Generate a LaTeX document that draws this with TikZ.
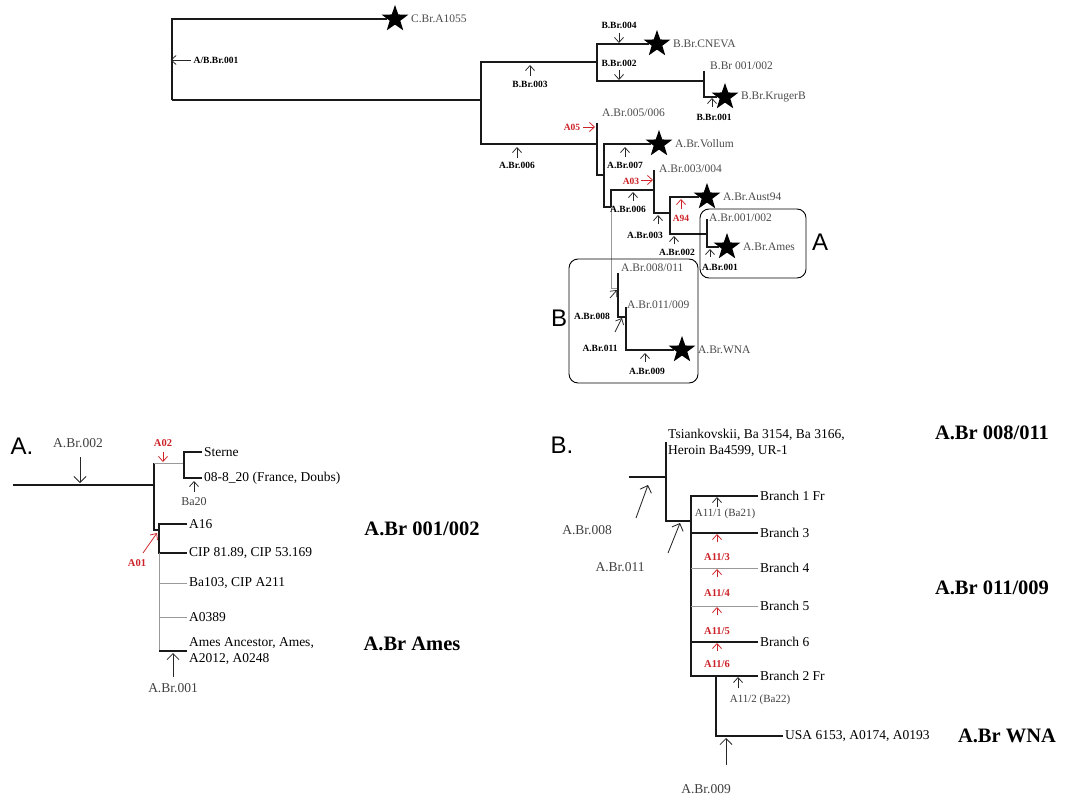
\documentclass[tikz,border=0pt]{standalone}
\usepackage{fontspec}
\setmainfont{Liberation Serif}
\newfontfamily\lettersf{Liberation Sans}
\usepackage{tikz}
\usetikzlibrary{arrows.meta,positioning,shapes.geometric}
\definecolor{mutred}{RGB}{205,35,40}

\begin{document}
\begin{tikzpicture}[
    x=1pt, y=-1pt,
    br/.style={draw=black!90, line width=1.1pt},
    brlite/.style={draw=black!40, line width=0.7pt},
    mut/.style={-{Straight Barb[length=5pt,width=9pt]}, line width=0.75pt, black!85},
    rmut/.style={mut, mutred},
    bigmut/.style={-{Straight Barb[length=6pt,width=12pt]}, line width=0.85pt, black!85},
    taxon/.style={star, star points=5, star point ratio=2.5, fill=black, minimum size=28pt, inner sep=0pt},
    leaf/.style={font=\fontsize{11.5}{13}\selectfont, text=black!70, inner sep=1pt},
    tag/.style={font=\bfseries\fontsize{9.5}{11}\selectfont, inner sep=1pt},
    rtag/.style={tag, text=mutred},
    lab/.style={font=\fontsize{13.5}{15.5}\selectfont, inner sep=2pt, align=left},
    rlab/.style={font=\bfseries\fontsize{10.5}{12}\selectfont, text=mutred, inner sep=1pt},
    head/.style={font=\bfseries\fontsize{20.5}{24}\selectfont},
    big/.style={font=\lettersf\fontsize{24}{28}\selectfont},
    node distance=7pt
]
\fill[white] (0,0) rectangle (1070,797);
\useasboundingbox (0,0) rectangle (1070,797);

\coordinate (root) at (172,100);
\coordinate (nAB) at (481,100);
\coordinate (nB) at (597,62);
\coordinate (nB12) at (704,81);
\coordinate (tB12) at (704,71);
\coordinate (nA) at (597,144);
\coordinate (tA56) at (597,123);
\coordinate (nA7) at (604,175);
\coordinate (nA6) at (611,207);
\coordinate (nA3) at (654,190);
\coordinate (tA34) at (654,170);
\coordinate (nA94) at (670,213);
\coordinate (nA12) at (707,234);
\coordinate (tA12) at (707,219);
\coordinate (nA8) at (618,288);
\coordinate (tA811) at (618,273);
\coordinate (nA11) at (626,317);
\coordinate (tA119) at (626,307);

\node[taxon] (sC) at (395,19) {};
\node[taxon] (sCNEVA) at (657,44) {};
\node[taxon] (sKruger) at (725,97) {};
\node[taxon] (sVollum) at (659,144) {};
\node[taxon] (sAust) at (707,197) {};
\node[taxon] (sAmes) at (727,247) {};
\node[taxon] (sWNA) at (682,350) {};

\draw[br] (root) |- (sC);
\draw[br] (root) -- (nAB);
\draw[br] (nAB) |- (nB);
\draw[br] (nAB) |- (nA);
\draw[br] (nB) |- (sCNEVA);
\draw[br] (nB) |- (nB12);
\draw[br] (tB12) -- (nB12) |- (sKruger);
\draw[br] (tA56) -- (nA) |- (nA7);
\draw[br] (nA7) |- (sVollum);
\draw[br] (nA7) |- (nA6);
\draw[br] (nA6) |- (nA3);
\draw[brlite] (nA6) |- (nA8);
\draw[br] (tA34) -- (nA3) |- (nA94);
\draw[br] (nA94) |- (sAust);
\draw[br] (nA94) |- (nA12);
\draw[br] (tA12) -- (nA12) |- (sAmes);
\draw[br] (tA811) -- (nA8) |- (nA11);
\draw[br] (tA119) -- (nA11) |- (sWNA);

\node[leaf, right=of sC] (lC) {C.Br.A1055};
\node[leaf, right=of sCNEVA] (lCNEVA) {B.Br.CNEVA};
\node[leaf, right=of sKruger] (lKruger) {B.Br.KrugerB};
\node[leaf, right=of sVollum] (lVollum) {A.Br.Vollum};
\node[leaf, right=of sAust] (lAust) {A.Br.Aust94};
\node[leaf, right=of sAmes] (lAmes) {A.Br.Ames};
\node[leaf, right=of sWNA] (lWNA) {A.Br.WNA};
\node[leaf, anchor=west] (lB0102) at (709,66) {B.Br 001/002};
\node[leaf, anchor=west] (lA0506) at (601,113) {A.Br.005/006};
\node[leaf, anchor=west] (lA0304) at (658,169) {A.Br.003/004};
\node[leaf, anchor=west] (lA0102) at (708,218) {A.Br.001/002};
\node[leaf, anchor=west] (lA0811) at (620,268) {A.Br.008/011};
\node[leaf, anchor=west] (lA1109) at (626,305) {A.Br.011/009};

\node[tag] (lAB001) at (216,60) {A/B.Br.001};
\draw[mut] (lAB001.west) ++(-2,0) -- ++(-20,0);
\node[tag] (lB003) at (530,84) {B.Br.003};
\draw[mut] (lB003) ++(0,-8) -- ++(0,-11);
\node[tag] (lA006a) at (517,165) {A.Br.006};
\draw[mut] (lA006a) ++(0,-7) -- ++(0,-11);
\node[tag] (lB004) at (619,25) {B.Br.004};
\draw[mut] (lB004) ++(0,8) -- ++(0,10);
\node[tag] (lB002) at (619,63) {B.Br.002};
\draw[mut] (lB002) ++(0,7) -- ++(0,10);
\node[tag] (lB001) at (714,117) {B.Br.001};
\draw[mut] (lB001) ++(-2,-10) -- ++(0,-9);
\node[rtag] (lA05) at (572,127) {A05};
\draw[rmut] (lA05) ++(11,0) -- ++(12,0);
\node[tag] (lA007) at (625,165) {A.Br.007};
\draw[mut] (lA007) ++(0,-8) -- ++(0,-10);
\node[rtag] (lA03) at (631,181) {A03};
\draw[rmut] (lA03) ++(10,-1) -- ++(12,0);
\node[tag] (lA006b) at (628,209) {A.Br.006};
\draw[mut] (lA006b) ++(5,-8) -- ++(0,-9);
\node[tag] (lA003) at (645,235) {A.Br.003};
\draw[mut] (lA003) ++(13,-11) -- ++(0,-9);
\node[rtag] (lA94) at (681,218) {A94};
\draw[rmut] (lA94) ++(0,-9) -- ++(0,-10);
\node[tag] (lA002) at (677,252) {A.Br.002};
\draw[mut] (lA002) ++(-3,-8) -- ++(0,-8);
\node[tag] (lA001) at (720,267) {A.Br.001};
\draw[mut] (lA001) ++(-10,-10) -- ++(0,-8);
\node[tag] (lA008) at (592,316) {A.Br.008};
\draw[mut] (lA008) ++(18,-18) -- ++(7,-8);
\node[tag] (lA011) at (600,348) {A.Br.011};
\draw[mut] (lA011) ++(15,-16) -- ++(7,-14);
\node[tag] (lA009) at (647,371) {A.Br.009};
\draw[mut] (lA009) ++(-2,-9) -- ++(0,-9);

\draw[line width=0.9pt, rounded corners=9pt] (700,209) rectangle (806,278);
\draw[line width=0.9pt, rounded corners=9pt] (569,259) rectangle (698,383);
\node[big] (boxA) at (820,242) {A};
\node[big] (boxB) at (559,318) {B};

\node[big] (panA) at (22,446) {A.};
\coordinate (aRoot) at (13,485);
\coordinate (aN) at (154,485);
\coordinate (aTop) at (154,463);
\coordinate (aBot) at (154,530);
\coordinate (a02) at (184,463);
\coordinate (a01) at (159,530);
\node[lab, anchor=west] (lSterne) at (202,452) {Sterne};
\node[lab, anchor=west] (lDoubs) at (202,478) {08-8\_20 (France, Doubs)};
\node[lab, anchor=west] (lA16) at (187,524) {A16};
\node[lab, anchor=west] (lCIP) at (187,553) {CIP 81.89, CIP 53.169};
\node[lab, anchor=west] (lBa103) at (187,583) {Ba103, CIP A211};
\node[lab, anchor=west] (lA0389) at (187,617) {A0389};
\node[lab, anchor=west] (lAmesA) at (187,651) {Ames Ancestor, Ames,\\A2012, A0248};
\draw[br] (aRoot) -- (aN);
\draw[br] (aTop) -- (aBot) -- (a01);
\draw[brlite] (aTop) -- (a02);
\draw[br] (lSterne.west) -| (a02) |- (lDoubs.west);
\draw[br] (lA16.west) -| (a01) |- (lCIP.west);
\draw[brlite] (lCIP.west -| a01) -- (lAmesA.west -| a01);
\draw[brlite] (lBa103.west) -- (lBa103.west -| a01);
\draw[brlite] (lA0389.west) -- (lA0389.west -| a01);
\draw[br] (lAmesA.west) -- (lAmesA.west -| a01);

\node[lab, text=black!75] (lAp002) at (78,443) {A.Br.002};
\draw[bigmut] (lAp002) ++(2,14) -- ++(0,26);
\node[rlab] (lA02) at (163,443) {A02};
\draw[rmut] (lA02) ++(0,9) -- ++(0,10);
\node[lab, font=\fontsize{12}{14}\selectfont, text=black!75] (lBa20) at (194,502) {Ba20};
\draw[mut] (lBa20) ++(0,-10) -- ++(0,-11);
\node[rlab] (lA01) at (137,563) {A01};
\draw[rmut] (lA01) ++(6,-10) -- ++(14,-20);
\node[lab, text=black!75] (lAp001) at (173,688) {A.Br.001};
\draw[bigmut] (lAp001) ++(0,-11) -- ++(0,-24);
\node[head] (hA0102) at (422,529) {A.Br 001/002};
\node[head] (hAmes) at (412,644) {A.Br Ames};

\node[big] (panB) at (562,445) {B.};
\coordinate (bRoot) at (629,477);
\coordinate (b8) at (666,477);
\coordinate (b8top) at (666,442);
\coordinate (b8bot) at (666,521);
\coordinate (b11) at (691,521);
\coordinate (b9) at (716,676);
\node[lab, anchor=west] (lTsian) at (666,443) {Tsiankovskii, Ba 3154, Ba 3166,\\Heroin Ba4599, UR-1};
\node[lab, anchor=west] (lBr1) at (758,496) {Branch 1 Fr};
\node[lab, anchor=west] (lBr3) at (758,533) {Branch 3};
\node[lab, anchor=west] (lBr4) at (758,568) {Branch 4};
\node[lab, anchor=west] (lBr5) at (758,606) {Branch 5};
\node[lab, anchor=west] (lBr6) at (758,642) {Branch 6};
\node[lab, anchor=west] (lBr2) at (758,676) {Branch 2 Fr};
\node[lab, anchor=west] (lUSA) at (783,736) {USA 6153, A0174, A0193};
\draw[br] (bRoot) -- (b8);
\draw[br] (b8top) -- (b8bot) -- (b11);
\draw[br] (lBr1.west) -| (b11) |- (lBr2.west);
\draw[br] (lBr3.west) -- (lBr3.west -| b11);
\draw[brlite] (lBr4.west) -- (lBr4.west -| b11);
\draw[brlite] (lBr5.west) -- (lBr5.west -| b11);
\draw[br] (lBr6.west) -- (lBr6.west -| b11);
\draw[br] (b9) |- (lUSA.west);

\node[lab, text=black!75] (lBp008) at (587,530) {A.Br.008};
\draw[bigmut] (lBp008) ++(49,-12) -- ++(12,-33);
\node[lab, text=black!75] (lBp011) at (620,567) {A.Br.011};
\draw[bigmut] (lBp011) ++(48,-14) -- ++(12,-30);
\node[lab, font=\fontsize{11}{13}\selectfont, text=black!75] (lA111) at (725,514) {A11/1 (Ba21)};
\draw[mut] (lA111) ++(-8,-7) -- ++(0,-10);
\node[rlab] (lA113) at (717,557) {A11/3};
\draw[rmut] (lA113) ++(0,-15) -- ++(0,-8);
\node[rlab] (lA114) at (717,593) {A11/4};
\draw[rmut] (lA114) ++(0,-16) -- ++(0,-8);
\node[rlab] (lA115) at (717,631) {A11/5};
\draw[rmut] (lA115) ++(0,-16) -- ++(0,-8);
\node[rlab] (lA116) at (717,664) {A11/6};
\draw[rmut] (lA116) ++(0,-13) -- ++(0,-8);
\node[lab, font=\fontsize{11}{13}\selectfont, text=black!75] (lA112) at (760,700) {A11/2 (Ba22)};
\draw[mut] (lA112) ++(-22,-12) -- ++(0,-11);
\node[lab, text=black!75] (lBp009) at (706,789) {A.Br.009};
\draw[bigmut] (lBp009) ++(20,-24) -- ++(0,-27);
\node[head] (hA0811) at (992,433) {A.Br 008/011};
\node[head] (hA1109) at (992,588) {A.Br 011/009};
\node[head] (hWNA) at (1007,736) {A.Br WNA};
\end{tikzpicture}
\end{document}
